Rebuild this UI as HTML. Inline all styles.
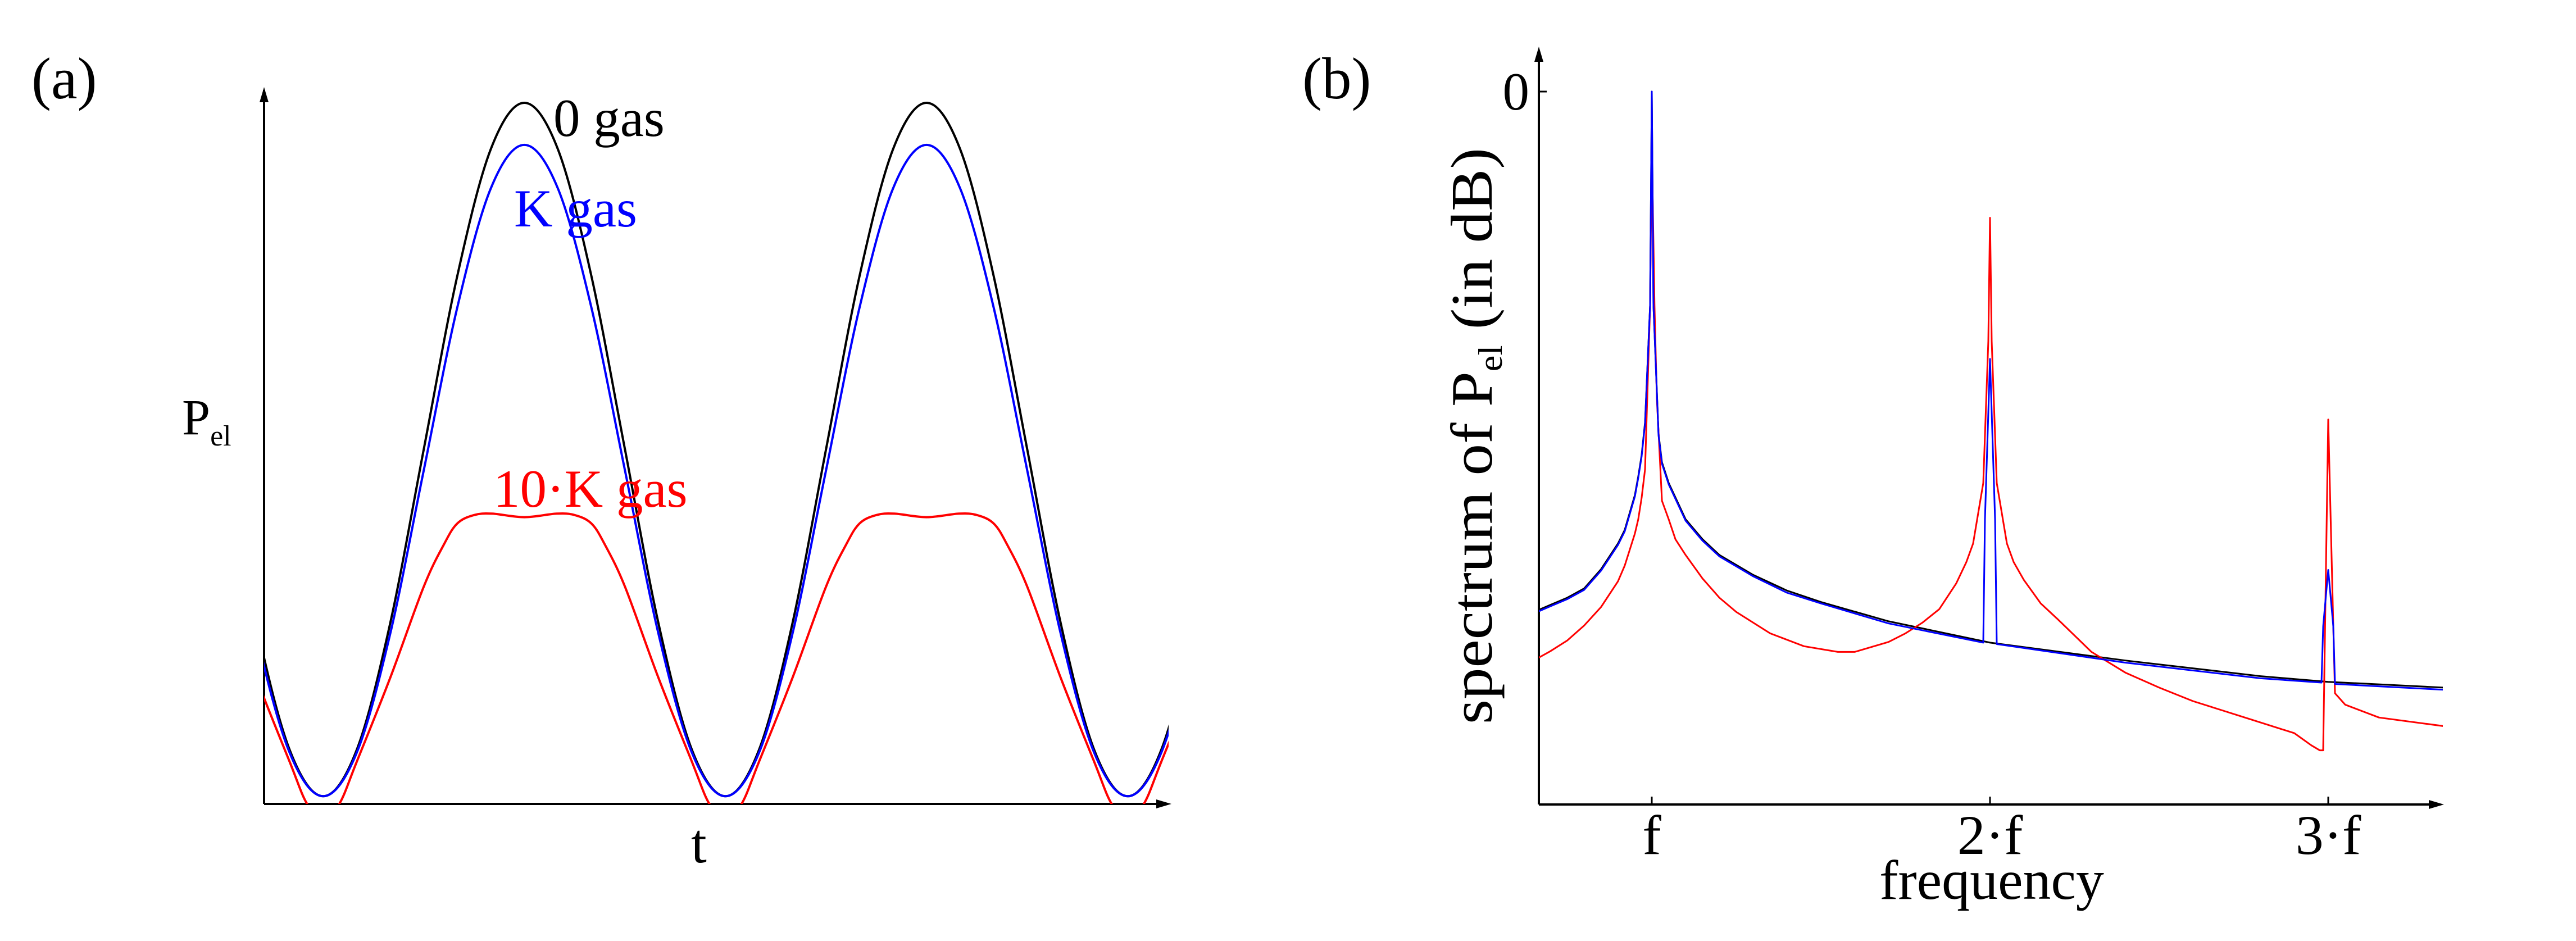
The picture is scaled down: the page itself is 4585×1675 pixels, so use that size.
<!DOCTYPE html>
<html><head><meta charset="utf-8"><style>
html,body{margin:0;padding:0;background:#fff;}
svg{display:block;}
text{font-family:"Liberation Serif","Times New Roman",serif;}
</style></head><body>
<svg id="fig" width="4585" height="1675" viewBox="0 0 4585 1675" font-family="Liberation Serif, serif">
<defs>
<clipPath id="clipA"><rect x="470" y="100" width="1610" height="1331"/></clipPath>
<clipPath id="clipB"><rect x="2739" y="80" width="1609" height="1352"/></clipPath>
</defs>
<g id="panelA">
<text x="56" y="175" font-size="105" font-family="Liberation Serif, serif">(a)</text>
<line x1="470" y1="1431" x2="470" y2="160" stroke="#000" stroke-width="4"/>
<path d="M462,182 L470,155 L478,182 z" fill="#000"/>
<line x1="470" y1="1431" x2="2075" y2="1431" stroke="#000" stroke-width="4"/>
<path d="M2058,1423 L2085,1431 L2058,1439 z" fill="#000"/>
<text x="324" y="773" font-size="90" font-family="Liberation Serif, serif">P<tspan font-size="52" dy="20">el</tspan></text>
<text x="1230" y="1535" font-size="100" font-family="Liberation Serif, serif">t</text>
<g id="curvesA" clip-path="url(#clipA)"></g>
<text x="985" y="242" font-size="95" font-family="Liberation Serif, serif" fill="#000">0 gas</text>
<text x="915" y="403" font-size="95" font-family="Liberation Serif, serif" fill="#0000ff">K gas</text>
<text x="878" y="902" font-size="95" font-family="Liberation Serif, serif" fill="#ff0000">10·K gas</text>
</g>
<g id="panelB">
<text x="2318" y="175" font-size="105" font-family="Liberation Serif, serif">(b)</text>
<line x1="2739" y1="1432" x2="2739" y2="90" stroke="#000" stroke-width="4"/>
<path d="M2731,110 L2739,83 L2747,110 z" fill="#000"/>
<line x1="2739" y1="1432" x2="4340" y2="1432" stroke="#000" stroke-width="4"/>
<path d="M4323,1424 L4350,1432 L4323,1440 z" fill="#000"/>
<g id="ticksB"></g>
<text x="3545" y="1600" font-size="100" font-family="Liberation Serif, serif" text-anchor="middle">frequency</text>
<text transform="translate(2655,776) rotate(-90)" font-size="105" font-family="Liberation Serif, serif" text-anchor="middle" textLength="1026" lengthAdjust="spacingAndGlyphs">spectrum of P<tspan font-size="60" dy="18">el</tspan><tspan dy="-18"> (in dB)</tspan></text>
<g id="curvesB" clip-path="url(#clipB)"></g>
</g>
</svg>
<script>
// ---- Panel (a) data: one period, phase measured from the minimum ----
const phaseBlackBlue = [0, 0.0833, 0.1667, 0.25, 0.3333, 0.4167, 0.5, 0.5833, 0.6667, 0.75, 0.8333, 0.9167, 1.0];
const valuesBlack = [0.011, 0.077, 0.258, 0.506, 0.753, 0.934, 1.0, 0.934, 0.753, 0.506, 0.258, 0.077, 0.011];
const valuesBlue  = [0.011, 0.073, 0.243, 0.476, 0.708, 0.878, 0.94, 0.878, 0.708, 0.476, 0.243, 0.073, 0.011];
const phaseRed = [0, 0.04, 0.0833, 0.1667, 0.25, 0.3, 0.3333, 0.375, 0.42, 0.5, 0.58, 0.625, 0.6667, 0.7, 0.75, 0.8333, 0.9167, 0.96, 1.0];
const valuesRed = [-0.02, 0.0, 0.06, 0.18, 0.31, 0.37, 0.40, 0.412, 0.414, 0.409, 0.414, 0.412, 0.40, 0.37, 0.31, 0.18, 0.06, 0.0, -0.02];
const firstMinimum = 0.147;
const cycles = [-1, 0, 1, 2];

// ---- Panel (b) data: frequency (multiples of f) vs dB ----
const freqTicks = [1, 2, 3];
const freqTickLabels = ["f", "2·f", "3·f"];
const dbTicks = [0];
const dbTickLabels = ["0"];
const freqBlack = [0.666, 0.7, 0.75, 0.8, 0.85, 0.9, 0.92, 0.95, 0.96, 0.97, 0.98, 0.995, 1.0, 1.005, 1.02, 1.03, 1.05, 1.1, 1.15, 1.2, 1.3, 1.4, 1.5, 1.7, 2.0, 2.4, 2.8, 3.0, 3.34];
const dbBlack   = [-72.7, -72, -71, -69.7, -67, -63.4, -61.5, -56.6, -54, -51, -46.4, -30, 0, -30, -48, -52, -54.9, -60, -62.8, -65, -67.8, -70, -71.6, -74.3, -77.3, -79.8, -82, -82.8, -83.6];
const freqBlue = [0.666, 0.7, 0.75, 0.8, 0.85, 0.9, 0.92, 0.95, 0.96, 0.97, 0.98, 0.995, 1.0, 1.005, 1.02, 1.03, 1.05, 1.1, 1.15, 1.2, 1.3, 1.4, 1.5, 1.7, 1.98, 1.985, 2.0, 2.015, 2.02, 2.4, 2.8, 2.98, 2.985, 3.0, 3.015, 3.02, 3.34];
const dbBlue   = [-72.9, -72.2, -71.2, -69.9, -67.2, -63.6, -61.7, -56.8, -54.2, -51.2, -46.6, -30, 0, -30, -48.2, -52.2, -55.1, -60.2, -63, -65.2, -68, -70.3, -71.8, -74.6, -77.3, -60, -37.5, -60, -77.5, -80.1, -82.3, -82.9, -75, -67.1, -75, -83.1, -83.9];
const freqRed = [0.666, 0.7, 0.75, 0.8, 0.85, 0.9, 0.92, 0.95, 0.96, 0.97, 0.98, 0.995, 1.0, 1.008, 1.015, 1.03, 1.05, 1.07, 1.1, 1.15, 1.2, 1.25, 1.35, 1.45, 1.55, 1.6, 1.7, 1.75, 1.8, 1.85, 1.9, 1.93, 1.95, 1.98, 1.995, 2.0, 2.005, 2.02, 2.05, 2.07, 2.1, 2.15, 2.2, 2.3, 2.4, 2.5, 2.6, 2.7, 2.8, 2.9, 2.95, 2.975, 2.985, 3.0, 3.015, 3.02, 3.05, 3.15, 3.34];
const dbRed   = [-79.4, -78.5, -77, -74.9, -72.3, -68.7, -66.5, -62, -60, -57, -53, -30, -7.5, -30, -43, -57.4, -60, -62.8, -65, -68.3, -71, -73, -76, -77.8, -78.6, -78.6, -77.2, -76, -74.5, -72.6, -69, -66, -63.4, -54.9, -35, -17.7, -35, -54.9, -63.4, -66, -68.5, -71.8, -74, -78.6, -81.5, -83.6, -85.5, -87, -88.5, -90, -91.7, -92.4, -92.4, -46, -75, -84.4, -86, -87.8, -89];

const NS = "http://www.w3.org/2000/svg";
const ax = t => 470 + t * 716;
const ay = v => 1431 - v * 1248;
const bx = f => 2338 + f * 602;
const by = d => 163 - d * 12.69;

function smoothPath(pts) {
  let d = "M" + pts[0][0].toFixed(1) + "," + pts[0][1].toFixed(1);
  for (let i = 0; i < pts.length - 1; i++) {
    const p0 = pts[Math.max(0, i - 1)], p1 = pts[i], p2 = pts[i + 1], p3 = pts[Math.min(pts.length - 1, i + 2)];
    const c1x = p1[0] + (p2[0] - p0[0]) / 6, c1y = p1[1] + (p2[1] - p0[1]) / 6;
    const c2x = p2[0] - (p3[0] - p1[0]) / 6, c2y = p2[1] - (p3[1] - p1[1]) / 6;
    d += "C" + c1x.toFixed(1) + "," + c1y.toFixed(1) + " " + c2x.toFixed(1) + "," + c2y.toFixed(1) + " " + p2[0].toFixed(1) + "," + p2[1].toFixed(1);
  }
  return d;
}
function periodicPoints(phases, vals) {
  const pts = [];
  cycles.forEach(c => {
    phases.forEach((p, i) => {
      if (c !== cycles[0] && i === 0) return;
      pts.push([ax(firstMinimum + c + p), ay(vals[i])]);
    });
  });
  return pts;
}
const gA = document.getElementById("curvesA");
[["black", phaseBlackBlue, valuesBlack, "#000", "curve-0-gas"],
 ["blue", phaseBlackBlue, valuesBlue, "#0000ff", "curve-k-gas"],
 ["red", phaseRed, valuesRed, "#ff0000", "curve-10k-gas"]].forEach(s => {
  const p = document.createElementNS(NS, "path");
  p.setAttribute("d", smoothPath(periodicPoints(s[1], s[2])));
  p.setAttribute("fill", "none");
  p.setAttribute("stroke", s[3]);
  p.setAttribute("stroke-width", "4");
  
  
  gA.appendChild(p);
});

const gT = document.getElementById("ticksB");
freqTicks.forEach((f, i) => {
  const l = document.createElementNS(NS, "line");
  l.setAttribute("x1", bx(f)); l.setAttribute("x2", bx(f));
  l.setAttribute("y1", 1432); l.setAttribute("y2", 1418);
  l.setAttribute("stroke", "#000"); l.setAttribute("stroke-width", "3");
  
  
  gT.appendChild(l);
  const t = document.createElementNS(NS, "text");
  t.setAttribute("x", bx(f)); t.setAttribute("y", 1520);
  t.setAttribute("font-size", "100"); t.setAttribute("text-anchor", "middle");
  t.setAttribute("font-family", "Liberation Serif, serif");
  t.textContent = freqTickLabels[i];
  
  
  gT.appendChild(t);
});
dbTicks.forEach((d, i) => {
  const l = document.createElementNS(NS, "line");
  l.setAttribute("x1", 2739); l.setAttribute("x2", 2753);
  l.setAttribute("y1", by(d)); l.setAttribute("y2", by(d));
  l.setAttribute("stroke", "#000"); l.setAttribute("stroke-width", "3");
  
  
  gT.appendChild(l);
  const t = document.createElementNS(NS, "text");
  t.setAttribute("x", 2722); t.setAttribute("y", by(d) + 32);
  t.setAttribute("font-size", "95"); t.setAttribute("text-anchor", "end");
  t.setAttribute("font-family", "Liberation Serif, serif");
  t.textContent = dbTickLabels[i];
  
  
  gT.appendChild(t);
});

const gB = document.getElementById("curvesB");
[[freqBlack, dbBlack, "#000", "spectrum-0-gas"],
 [freqRed, dbRed, "#ff0000", "spectrum-10k-gas"],
 [freqBlue, dbBlue, "#0000ff", "spectrum-k-gas"]].forEach(s => {
  const pl = document.createElementNS(NS, "polyline");
  pl.setAttribute("points", s[0].map((f, i) => bx(f).toFixed(1) + "," + by(s[1][i]).toFixed(1)).join(" "));
  pl.setAttribute("fill", "none");
  pl.setAttribute("stroke", s[2]);
  pl.setAttribute("stroke-width", "3");
  pl.setAttribute("stroke-linejoin", "round");
  
  
  gB.appendChild(pl);
});
</script>
</body></html>
